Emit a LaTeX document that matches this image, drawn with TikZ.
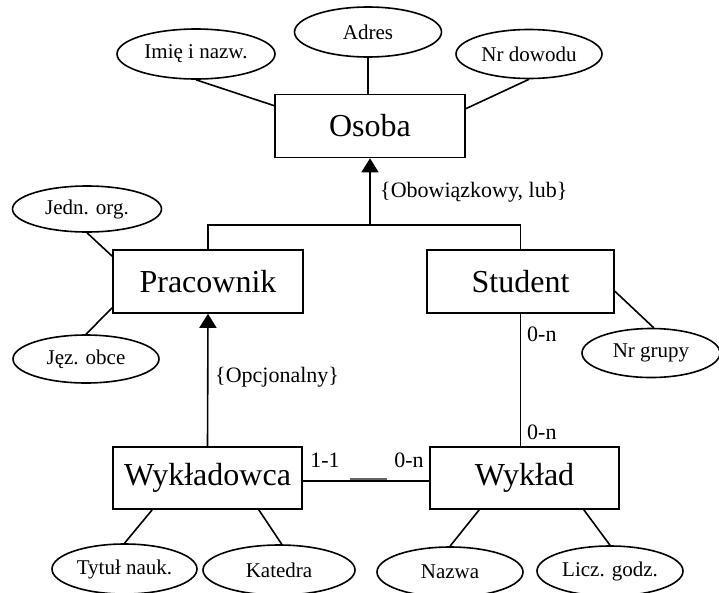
\documentclass[tikz,border=0pt]{standalone}
\usepackage{fontspec}
\setmainfont{Liberation Serif}
\usetikzlibrary{shapes.geometric,arrows.meta,calc}
\tikzset{
  entity/.style={draw,rectangle,line width=1.6pt,inner sep=0pt,minimum width=190pt,minimum height=63pt,font=\fontsize{32}{32}\selectfont},
  attr/.style={draw,ellipse,line width=1.6pt,inner sep=0pt,minimum width=147pt,minimum height=50pt,font=\fontsize{21}{21}\selectfont},
  lbl/.style={inner sep=0pt,font=\fontsize{22}{22}\selectfont},
  conn/.style={line width=1.6pt},
  isa/.style={line width=1.6pt,-{Triangle[width=17pt,length=14pt]}}
}
\begin{document}
\begin{tikzpicture}[x=1pt,y=-1pt]
\useasboundingbox (0,0) rectangle (719,592);
% entities
\node[entity] (osoba) at (370,126) {Osoba};
\node[entity] (prac) at (208,281.5) {Pracownik};
\node[entity,minimum width=187pt] (stud) at (520.5,281.5) {Student};
\node[entity,minimum width=189pt,minimum height=62pt] (wykl) at (207.5,478) {Wykładowca};
\node[entity,minimum width=189pt,minimum height=62pt] (wyk) at (524.5,478) {Wykład};
% attributes
\node[attr,minimum width=158pt] (imie) at (196,54) {Imię i nazw.};
\node[attr] (adres) at (368,32) {Adres};
\node[attr,minimum width=146pt,minimum height=49pt] (nrdow) at (529,54) {Nr dowodu};
\node[attr,minimum width=149pt,minimum height=46pt] (jedn) at (87,209) {Jedn. org.};
\node[attr,minimum width=146pt,minimum height=48pt] (jez) at (86,359) {Jęz. obce};
\node[attr,minimum width=138pt,minimum height=49pt] (nrgr) at (651,353) {Nr grupy};
\node[attr,minimum width=145pt] (tytul) at (124.5,569) {Tytuł nauk.};
\node[attr,minimum width=152pt] (kat) at (279,570) {Katedra};
\node[attr,minimum width=146pt] (nazwa) at (450,572) {Nazwa};
\node[attr,minimum width=146pt] (licz) at (610,571) {Licz. godz.};
% attribute links
\draw[conn] (imie.south) -- ($(osoba.north west)+(0,12)$);
\draw[conn] (adres.south) -- (adres.south |- osoba.north);
\draw[conn] (nrdow.south) -- ($(osoba.north east)+(0,15)$);
\draw[conn] (jedn.south) -- ($(prac.north west)+(0,7)$);
\draw[conn] (jez.north) -- ($(prac.south west)+(0,-6)$);
\draw[conn] ($(stud.north east)+(0,42)$) -- (nrgr.84);
\draw[conn] ($(wykl.south west)+(40,0)$) -- (tytul.north);
\draw[conn] ($(wykl.south east)+(-44,0)$) -- (kat.84);
\draw[conn] ($(wyk.south west)+(50,0)$) -- (nazwa.north);
\draw[conn] ($(wyk.south east)+(-36,0)$) -- (licz.north);
% generalisation
\coordinate (split) at (370,225);
\draw[conn] (prac.north) |- (split) -| (stud.north);
\draw[isa] (split) -- (osoba.south);
\draw[isa] (wykl.north) -- (prac.south);
% relationships
\draw[conn] (stud.south) -- (stud.south |- wyk.north);
\draw[conn] ($(wykl.east)+(0,3)$) -- ($(wyk.west)+(0,3)$);
\draw[line width=1.6pt,black!60] (350,479) -- (387,479);
% labels
\node[lbl,anchor=west] (lobow) at (380,192) {\{Obowiązkowy, lub\}};
\node[lbl,anchor=west] (lopcj) at (215,377) {\{Opcjonalny\}};
\node[lbl,anchor=west] (lst) at (527,334) {0-n};
\node[lbl,anchor=west] (lwk) at (527,432) {0-n};
\node[lbl] (l11) at (325,460) {1-1};
\node[lbl] (l0n) at (409,460) {0-n};
\end{tikzpicture}
\end{document}
